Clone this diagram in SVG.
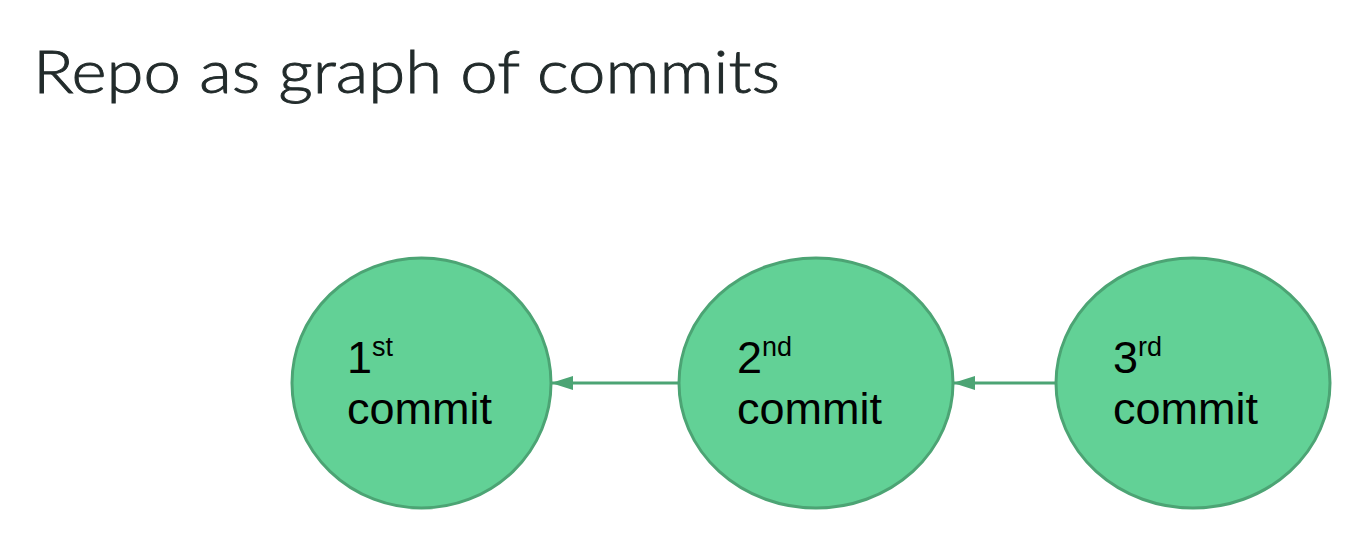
<svg xmlns="http://www.w3.org/2000/svg" width="1367" height="555" viewBox="0 0 1367 555">
<style>
.title{font-family:Lato,"Open Sans","Liberation Sans",sans-serif;font-size:60px;font-weight:300;fill:#222b2b;stroke:#222b2b;stroke-width:0.9}
.node ellipse{fill:#62d196;stroke:#4ca474;stroke-width:3}
.lbl{font-family:"Liberation Sans",Arial,sans-serif;font-size:45px;fill:#000}
.sup{font-size:27px}
.edge{stroke:#4ca474;stroke-width:3;fill:none}
</style>
<defs>
<marker id="arr" markerUnits="userSpaceOnUse" markerWidth="22" markerHeight="14" refX="21" refY="7" orient="auto">
<path d="M0,0 L22,7 L0,14 Z" fill="#4ca474"/>
</marker>
</defs>
<rect width="1367" height="555" fill="#fff"/>
<text class="title" x="33" y="92.5" textLength="747" lengthAdjust="spacingAndGlyphs">Repo as graph of commits</text>
<g id="connectors">
<line class="edge" x1="680" y1="383" x2="552" y2="383" marker-end="url(#arr)"/>
<line class="edge" x1="1056" y1="383" x2="954" y2="383" marker-end="url(#arr)"/>
</g>
<g id="c1" class="node">
<ellipse cx="421.5" cy="383" rx="129.5" ry="125"/>
<text class="lbl" x="347" y="372.5">1<tspan class="sup" dy="-17">st</tspan></text>
<text class="lbl" x="347" y="423.5">commit</text>
</g>
<g id="c2" class="node">
<ellipse cx="816" cy="383" rx="137" ry="125"/>
<text class="lbl" x="737" y="372.5">2<tspan class="sup" dy="-17">nd</tspan></text>
<text class="lbl" x="737" y="423.5">commit</text>
</g>
<g id="c3" class="node">
<ellipse cx="1193" cy="383" rx="137" ry="125"/>
<text class="lbl" x="1113" y="372.5">3<tspan class="sup" dy="-17">rd</tspan></text>
<text class="lbl" x="1113" y="423.5">commit</text>
</g>
</svg>
